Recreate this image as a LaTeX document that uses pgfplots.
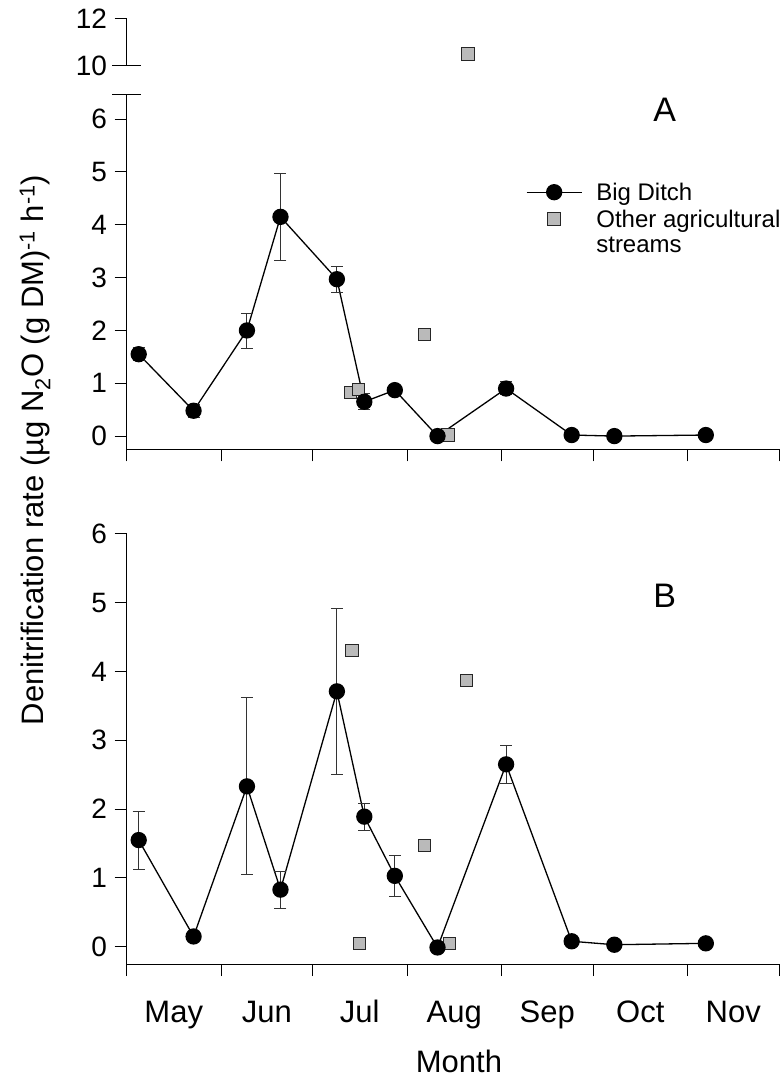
\documentclass[border=0pt]{standalone}
\usepackage{fontspec}
\setmainfont{Liberation Sans}
\usepackage{pgfplots}
\usepackage{pgfplotstable}
\pgfplotsset{compat=1.18}
\newcommand\fs[1]{\fontsize{#1pt}{#1pt}\selectfont}

\pgfplotstableread{
x y ep em
4 1.55 0.12 0.12
22 0.48 0.12 0.12
39.5 2.00 0.33 0.34
50.5 4.15 0.82 0.83
69 2.97 0.25 0.25
78 0.65 0.15 0.15
88 0.87 0 0
102 0.00 0 0
124.5 0.90 0.13 0.12
146 0.02 0 0
160 0.00 0 0
190 0.02 0 0
}\bigA

\pgfplotstableread{
x y
73.5 0.83
76 0.88
97.7 1.92
105.5 0.02
}\otherA

\pgfplotstableread{
x y
112 10.5
}\otherAup

\pgfplotstableread{
x y ep em
4 1.55 0.42 0.43
22 0.15 0 0
39.5 2.33 1.29 1.28
50.5 0.83 0.27 0.28
69 3.71 1.21 1.21
78 1.89 0.19 0.20
88 1.03 0.30 0.30
102 -0.01 0 0
124.5 2.65 0.28 0.28
146 0.08 0 0
160 0.03 0 0
190 0.05 0 0
}\bigB

\pgfplotstableread{
x y
74 4.30
76.5 0.05
97.7 1.47
106 0.05
111.6 3.87
}\otherB

\pgfplotsset{
  panel/.style={
    scale only axis, width=652.5pt, xmin=0, xmax=214, clip=false,
    axis x line*=bottom, axis y line*=left,
    axis line style={line width=1pt, -},
    tick style={line width=1pt, black},
    tick align=outside, major tick length=12pt,
    xtick={0,31,61,92,123,153,184,214}, xticklabels={},
    /pgf/number format/assume math mode=true,
    yticklabel style={font=\fs{28}, xshift=-4pt},
    xticklabel style={font=\fs{31}},
  },
  bigd/.style={black, line width=1.3pt, mark=*, mark size=7.5pt,
    mark options={fill=black, solid},
    error bars/y dir=both, error bars/y explicit,
    error bars/error bar style={line width=0.9pt, black!80},
    error bars/error mark options={rotate=90, mark size=6pt, line width=0.9pt, black!80}},
  oth/.style={only marks, mark=square*, mark size=6.2pt,
    mark options={fill=black!27, draw=black!85, line width=1pt}},
}

\begin{document}
\begin{tikzpicture}[x=1pt,y=1pt]
\useasboundingbox (0,0) rectangle (781,1080);

% Panel A upper segment
\begin{axis}[panel, at={(126.5pt,1014.3pt)}, anchor=south west,
  height=46.7pt, ymin=10, ymax=12, ytick={10,12},
  axis x line=none]
  \addplot[oth] table[x=x,y=y] {\otherAup};
\end{axis}

% Panel A lower segment
\begin{axis}[panel, at={(126.5pt,630.7pt)}, anchor=south west,
  height=355pt, ymin=-0.25, ymax=6.47, ytick={0,1,2,3,4,5,6},
  legend style={at={(0.612,0.757)}, anchor=north west, draw=none, fill=none,
    font=\fs{24}, inner sep=0pt, row sep=4pt,
    /tikz/every odd column/.append style={column sep=12pt}},
  legend cell align=left]
  \addplot[oth, forget plot] table[x=x,y=y] {\otherA};
  \addplot[bigd, legend image code/.code={
      \draw[black, line width=1.3pt] (0pt,0pt) -- (55pt,0pt);
      \fill[black] (27.5pt,0pt) circle (7.5pt);}]
    table[x=x,y=y,y error plus=ep,y error minus=em] {\bigA};
  \addlegendentry{Big Ditch}
  \addlegendimage{legend image code/.code={
      \path[draw=none] (0pt,0pt) -- (55pt,0pt);
      \draw[fill=black!27, draw=black!85, line width=1pt] (21.3pt,-6.2pt) rectangle (33.7pt,6.2pt);}}
  \addlegendentry{Other agricultural}
  \addlegendimage{legend image code/.code={\path[draw=none] (0pt,0pt) -- (55pt,0pt);}}
  \addlegendentry{streams}
  \node[font=\fs{34}] at (axis cs:176.5,6.18) {A};
\end{axis}
\draw[line width=1pt] (112,985.7) -- (141,985.7);
\draw[line width=1pt] (112,1014.3) -- (141,1014.3);

% Panel B
\begin{axis}[panel, at={(126.5pt,116pt)}, anchor=south west,
  height=430.3pt, ymin=-0.25, ymax=6, ytick={0,1,2,3,4,5,6},
  extra x ticks={15.5,46,76.5,107.5,138,168.5,199},
  extra x tick labels={May,Jun,Jul,Aug,Sep,Oct,Nov},
  extra x tick style={tick style={draw=none}},
  xticklabel style={anchor=base, yshift=-46pt}]
  \addplot[oth] table[x=x,y=y] {\otherB};
  \addplot[bigd] table[x=x,y=y,y error plus=ep,y error minus=em] {\bigB};
  \node[font=\fs{34}] at (axis cs:176.5,5.1) {B};
\end{axis}

\node[font=\fs{31}, anchor=base] at (459,7) {Month};
\node[font=\fs{31}, rotate=90] at (35,630) {Denitrification rate (µg N\textsubscript{2}O (g DM)\textsuperscript{-1} h\textsuperscript{-1})};
\end{tikzpicture}
\end{document}
